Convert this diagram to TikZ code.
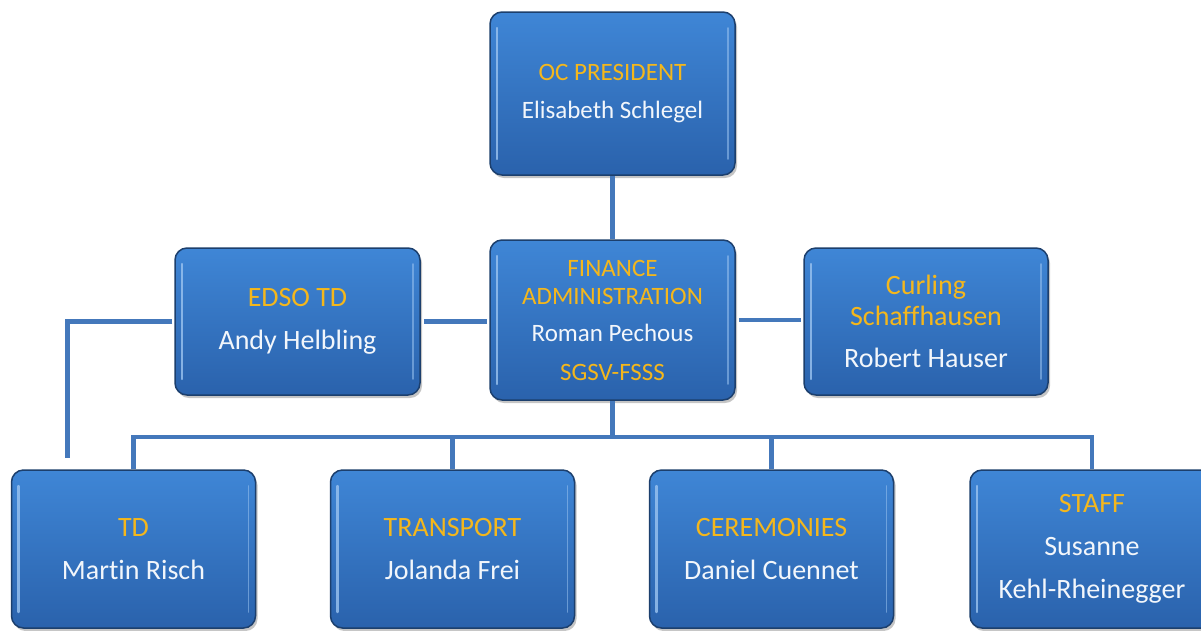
\documentclass[tikz,border=0pt]{standalone}
\usepackage{fontspec}
\setmainfont{Carlito}[Ligatures=CommonOff]
\usetikzlibrary{shadows,calc}
\definecolor{boxtop}{HTML}{3F86D6}
\definecolor{boxbot}{HTML}{2A62AC}
\definecolor{boxedge}{HTML}{1C3F6D}
\definecolor{hilite}{HTML}{9CC4F0}
\definecolor{gold}{HTML}{F4B71C}
\definecolor{paper}{HTML}{F2F6FB}
\definecolor{conncol}{HTML}{4478BB}
\tikzset{
  orgbox/.style={rounded corners=12pt, shading=axis, top color=boxtop, bottom color=boxbot,
    draw=boxedge, line width=1.5pt, text=paper, align=center, inner sep=0pt,
    drop shadow={shadow xshift=2pt, shadow yshift=-3pt, opacity=0.45},
    path picture={
      \draw[hilite, line width=2.4pt, opacity=0.8, line cap=round]
        ($(path picture bounding box.north west)+(7pt,-16pt)$) -- ($(path picture bounding box.south west)+(7pt,16pt)$);
      \draw[hilite, line width=1.6pt, opacity=0.55, line cap=round]
        ($(path picture bounding box.north east)+(-7pt,-16pt)$) -- ($(path picture bounding box.south east)+(-7pt,16pt)$);
    }},
  bigtext/.style={font=\fontsize{28}{31}\selectfont},
  smalltext/.style={font=\fontsize{25}{28}\selectfont},
  conn/.style={draw=conncol, line width=4.5pt}
}
\newcommand{\gold}[1]{\textcolor{gold}{#1}}
\begin{document}
\begin{tikzpicture}[x=1pt,y=1pt]
\useasboundingbox (0,0) rectangle (1201,-630);
\clip (0,0) rectangle (1201,-630);
\fill[white] (0,0) rectangle (1201,-630);

\coordinate (bus) at (612.5,-437);
\coordinate (edsoL) at (67.5,-458);

\node[orgbox, smalltext, minimum width=245pt, minimum height=163pt] (oc) at (612.5,-93.5)
  {\gold{OC PRESIDENT}\\[10pt]Elisabeth Schlegel};
\node[orgbox, smalltext, minimum width=245pt, minimum height=160pt] (fin) at (612.5,-320)
  {\gold{FINANCE}\\\gold{ADMINISTRATION}\\[9pt]Roman Pechous\\[11pt]\gold{SGSV-FSSS}};
\node[orgbox, bigtext, minimum width=245pt, minimum height=147pt] (edso) at (297.5,-321.5)
  {\gold{EDSO TD}\\[12pt]Andy Helbling};
\node[orgbox, bigtext, minimum width=244pt, minimum height=147pt] (cur) at (926,-321.5)
  {\gold{Curling}\\\gold{Schaffhausen}\\[11pt]Robert Hauser};
\node[orgbox, bigtext, minimum width=244pt, minimum height=158pt] (td) at (133.5,-549)
  {\gold{TD}\\[12pt]Martin Risch};
\node[orgbox, bigtext, minimum width=244pt, minimum height=158pt] (tr) at (452.5,-549)
  {\gold{TRANSPORT}\\[12pt]Jolanda Frei};
\node[orgbox, bigtext, minimum width=244pt, minimum height=158pt] (cer) at (771.5,-549)
  {\gold{CEREMONIES}\\[12pt]Daniel Cuennet};
\node[orgbox, bigtext, minimum width=244pt, minimum height=158pt] (staff) at (1092,-549)
  {\raisebox{-3pt}{\gold{STAFF}}\\[12pt]\raisebox{-3pt}{Susanne}\\[12pt]\raisebox{-3pt}{Kehl-Rheinegger}};

\draw[conn] (oc.south) -- (fin.north);
\draw[conn] ([xshift=3pt]edso.east) -- ([xshift=-2pt]edso.east -| fin.west);
\draw[conn] ([xshift=3pt]fin.east) -- ([xshift=-2pt]fin.east -| cur.west);
\draw[conn] ([xshift=-2pt]edso.west) -| (edsoL);
\draw[conn] (fin.south) -- (bus);
\draw[conn] (td.north) |- (staff.north |- bus) -- (staff.north);
\draw[conn] (tr.north) -- (tr.north |- bus);
\draw[conn] (cer.north) -- (cer.north |- bus);
\end{tikzpicture}
\end{document}
